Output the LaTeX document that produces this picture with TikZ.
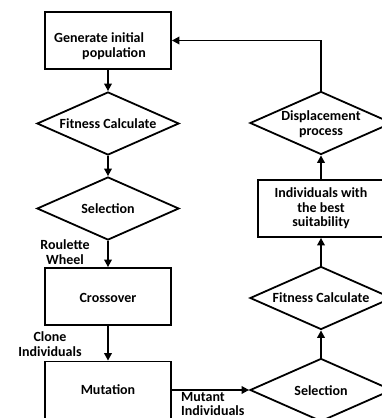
\documentclass[tikz,border=0pt]{standalone}
\usepackage{fontspec}
\setmainfont{Carlito}
\usetikzlibrary{arrows.meta,shapes.geometric}
\begin{document}
\begin{tikzpicture}[x=1pt,y=-1pt,
  txt/.style={font=\bfseries\fontsize{14}{14.5}\selectfont,align=center,inner sep=0pt},
  boxnode/.style={draw,line width=1.8pt,minimum width=126pt,minimum height=57pt,inner sep=0pt},
  dia/.style={draw,diamond,line width=1.8pt,minimum width=142pt,minimum height=63pt,inner sep=0pt},
  arr/.style={line width=1.8pt,-{Triangle[length=7.5pt,width=7.5pt]}},
  lbl/.style={txt}]
\clip (0,0) rectangle (382,418);
\useasboundingbox (0,0) rectangle (382,418);
% left column
\node[boxnode,label={[txt,align=left,xshift=-8pt,yshift=-5.5pt]center:Generate initial\\\hspace*{28pt}population}] (gen) at (108,40.5) {};
\node[dia,label={[txt]center:Fitness Calculate}] (fit1) at (108,123.5) {};
\node[dia,label={[txt]center:Selection}] (sel1) at (108,208.5) {};
\node[boxnode,label={[txt,yshift=-1pt]center:Crossover}] (cross) at (108,296.5) {};
\node[boxnode,label={[txt]center:Mutation}] (mut) at (108,390) {};
% right column
\node[dia,label={[txt,yshift=-1pt]center:Selection}] (sel2) at (321,390) {};
\node[dia,label={[txt]center:Fitness Calculate}] (fit2) at (321,298) {};
\node[boxnode,label={[txt]center:Individuals with\\the best\\suitability}] (ind) at (321,208.5) {};
\node[dia,label={[txt,yshift=-1pt]center:Displacement\\process}] (disp) at (321,123) {};
% edge labels
\node[lbl] (rw) at (65,252) {Roulette\\Wheel};
\node[lbl] (ci) at (50,344) {Clone\\Individuals};
\node[lbl,align=left,anchor=west] (mi) at (181,404) {Mutant\\Individuals};
% connectors
\draw[arr] (gen) -- (fit1);
\draw[arr] (fit1) -- (sel1);
\draw[arr] (sel1) -- (cross);
\draw[arr] (cross) -- (mut);
\draw[arr] (mut) -- (sel2);
\draw[arr] (sel2) -- (fit2);
\draw[arr] (fit2) -- (ind);
\draw[arr] (ind) -- (disp);
\draw[arr] (disp.north) -- (disp.north |- gen.east) -- (gen.east);
\end{tikzpicture}
\end{document}
